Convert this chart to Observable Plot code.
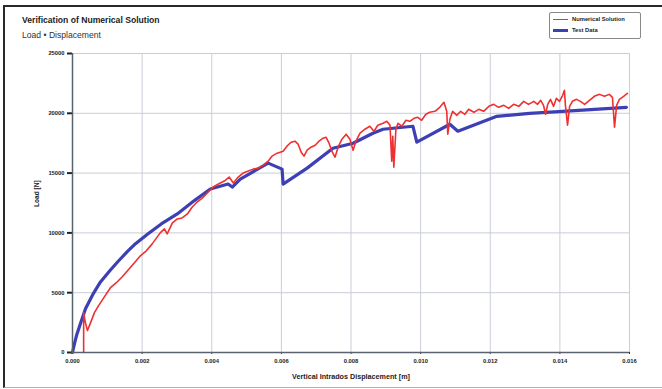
<!DOCTYPE html>
<html>
<head>
<meta charset="utf-8">
<script src="https://cdn.jsdelivr.net/npm/d3@7"></script>
<script src="https://cdn.jsdelivr.net/npm/@observablehq/plot@0.6"></script>
<style>
  html, body { margin: 0; padding: 0; background: #fff; }
  #wrap { position: relative; width: 662px; height: 389px; overflow: hidden; font-family: "Liberation Sans", Arial, sans-serif; }
  #frame { position: absolute; left: 3px; top: 5px; width: 670px; height: 380px; border-top: 2px solid #2a2a2a; border-left: 2px solid #2a2a2a; border-bottom: 1px solid #b0b0b0; }
  #chart { position: absolute; left: 0; top: 0; }
  .title { position: absolute; left: 22px; top: 15px; font-size: 8.6px; font-weight: bold; color: #222; }
  .subtitle { position: absolute; left: 22px; top: 30px; font-size: 8.6px; color: #333; }
  #legend { position: absolute; left: 549px; top: 12px; width: 90px; height: 25px; border: 1.5px solid #888; border-radius: 2px; background: #fff; font-size: 5.8px; font-weight: bold; color: #222; }
  .li { position: absolute; left: 3px; display: flex; align-items: center; }
  .sw { display: inline-block; width: 15px; margin-right: 4px; }
</style>
</head>
<body>
<div id="wrap">
  <div id="chart"></div>
  <div id="frame"></div>
  <div class="title">Verification of Numerical Solution</div>
  <div class="subtitle">Load • Displacement</div>
  <div id="legend">
    <div class="li" style="top:3px"><span class="sw" style="border-top:1.5px solid #f03030"></span>Numerical Solution</div>
    <div class="li" style="top:14px"><span class="sw" style="border-top:3px solid #3c40b4"></span>Test Data</div>
  </div>
</div>
<script>
// Displacement [m] and load [N]
const numX = [0.00032,0.00032,0.00037,0.00043,0.00052,0.00063,0.00075,0.00092,0.00109,0.00126,0.00143,0.00158,0.00178,0.00195,0.00212,0.00229,0.00252,0.00264,0.00272,0.00287,0.00301,0.00315,0.00330,0.00344,0.00358,0.00376,0.00390,0.00404,0.00419,0.00436,0.00450,0.00462,0.00476,0.00490,0.00505,0.00519,0.00533,0.00548,0.00562,0.00573,0.00588,0.00605,0.00616,0.00628,0.00639,0.00648,0.00657,0.00665,0.00674,0.00685,0.00697,0.00708,0.00720,0.00728,0.00737,0.00745,0.00754,0.00763,0.00774,0.00786,0.00797,0.00806,0.00814,0.00826,0.00840,0.00854,0.00866,0.00877,0.00892,0.00903,0.00912,0.00917,0.00920,0.00923,0.00929,0.00935,0.00946,0.00958,0.00969,0.00981,0.00992,0.01003,0.01015,0.01026,0.01041,0.01055,0.01067,0.01075,0.01078,0.01084,0.01092,0.01104,0.01115,0.01127,0.01138,0.01153,0.01167,0.01181,0.01196,0.01210,0.01224,0.01239,0.01253,0.01267,0.01282,0.01296,0.01310,0.01325,0.01336,0.01345,0.01353,0.01359,0.01365,0.01373,0.01382,0.01390,0.01399,0.01408,0.01413,0.01416,0.01422,0.01428,0.01436,0.01448,0.01459,0.01471,0.01485,0.01499,0.01514,0.01528,0.01542,0.01551,0.01557,0.01563,0.01571,0.01583,0.01594];
const numY = [0,3333,2500,1833,2500,3333,3917,4667,5417,5833,6333,6833,7500,8083,8500,9083,10000,10333,9917,10833,11167,11250,11583,12167,12583,13000,13417,13833,14083,14333,14667,14167,14667,15000,15167,15333,15417,15667,16000,16417,16667,16833,17250,17583,17667,17417,16750,16417,16917,17167,17333,17667,17917,18000,17500,16833,16333,17167,17833,18250,17833,16917,17667,18333,18667,18917,18500,19000,19167,19333,19000,16000,18083,15500,18667,19167,18917,19417,19333,19583,19667,19417,19917,20083,20167,20500,20917,20167,18250,19500,20167,19833,20167,19917,20333,20083,20333,20167,20583,20750,20500,20667,20417,20750,20583,21000,20750,21000,20750,21083,20667,19917,20750,21167,20583,21250,21000,21500,21917,20667,19000,20583,21000,21167,21000,20750,21083,21417,21583,21417,21583,21333,18833,20667,21167,21417,21667];

const testX = [0,0.000057,0.000115,0.000229,0.000373,0.000602,0.000803,0.00109,0.00132,0.00158,0.00181,0.00218,0.00255,0.00301,0.00350,0.00396,0.00447,0.00459,0.00482,0.00562,0.00602,0.00605,0.00674,0.00748,0.00806,0.00863,0.00892,0.00978,0.00989,0.01084,0.01107,0.01219,0.01313,0.01408,0.01591];
const testY = [0,750,1417,2417,3650,4950,5900,6900,7650,8450,9100,9950,10750,11583,12700,13667,14083,13833,14500,15833,15333,14083,15417,17083,17500,18333,18667,18917,17583,19083,18500,19750,20000,20167,20500];

const xTicks = [0,0.002,0.004,0.006,0.008,0.010,0.012,0.014,0.016];
const yTicks = [0,5000,10000,15000,20000,25000];

const numerical = numX.map((x, i) => ({x, y: numY[i]}));
const test = testX.map((x, i) => ({x, y: testY[i]}));

const chart = Plot.plot({
  width: 662,
  height: 389,
  marginLeft: 72,
  marginRight: 33,
  marginTop: 53,
  marginBottom: 37,
  style: {background: "transparent", fontFamily: "Liberation Sans, Arial, sans-serif"},
  x: {domain: [0, 0.016]},
  y: {domain: [0, 25000]},
  marks: [
    Plot.gridX(xTicks.slice(1), {stroke: "#c9cdd8", strokeOpacity: 1, strokeWidth: 1}),
    Plot.gridY(yTicks.slice(1), {stroke: "#c9cdd8", strokeOpacity: 1, strokeWidth: 1}),
    Plot.axisX(xTicks, {tickFormat: d3.format(".3f"), tickSize: 2, tickPadding: 4, fontSize: 5.8, fontWeight: "bold", fill: "#222", stroke: "#333", label: null}),
    Plot.axisY(yTicks, {tickFormat: d => String(d), tickSize: 5, tickPadding: 3, fontSize: 5.8, fontWeight: "bold", fill: "#222", stroke: "#222", strokeWidth: 2, label: null}),
    Plot.text(["Vertical Intrados Displacement [m]"], {frameAnchor: "bottom", dx: 0, dy: 26, fontSize: 7.2, fontWeight: "bold", fill: "#222"}),
    Plot.text(["Load [N]"], {frameAnchor: "left", dx: -36, dy: 4, rotate: -90, fontSize: 6.6, fontWeight: "bold", fill: "#222"}),
    Plot.line(test, {x: "x", y: "y", stroke: "#3c40b4", strokeWidth: 3.2, strokeLinejoin: "round", curve: "linear"}),
    Plot.line(numerical, {x: "x", y: "y", stroke: "#f03030", strokeWidth: 1.6, strokeLinejoin: "round"}),
    Plot.ruleX([0], {stroke: "#5a6270", strokeWidth: 1.5}),
    Plot.ruleY([0], {stroke: "#5a6270", strokeWidth: 1.5})
  ]
});
document.getElementById("chart").appendChild(chart);
</script>
</body>
</html>
